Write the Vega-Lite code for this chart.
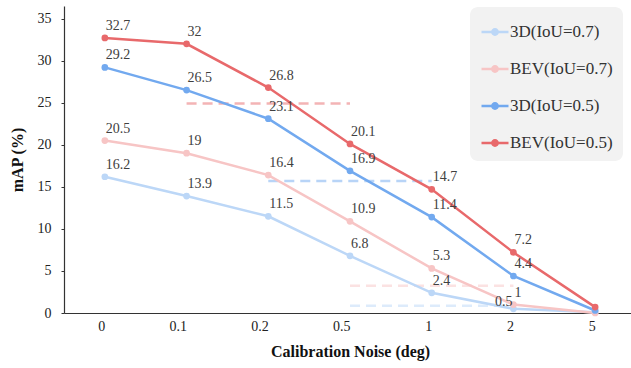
{
  "$schema": "https://vega.github.io/schema/vega-lite/v6.json",
  "width": 572,
  "height": 307,
  "autosize": "none",
  "padding": {"left": 64, "top": 6, "right": 0, "bottom": 55},
  "background": "white",
  "config": {
    "view": {"stroke": null},
    "font": "Liberation Serif, Times New Roman, serif",
    "axis": {"labelFont": "Liberation Serif, Times New Roman, serif", "titleFont": "Liberation Serif, Times New Roman, serif"},
    "legend": {"labelFont": "Liberation Serif, Times New Roman, serif"},
    "text": {"font": "Liberation Serif, Times New Roman, serif"}
  },
  "datasets": {
    "main": [
      {"noise": "0", "series": "3D(IoU=0.7)", "map": 16.2},
      {"noise": "0.1", "series": "3D(IoU=0.7)", "map": 13.9},
      {"noise": "0.2", "series": "3D(IoU=0.7)", "map": 11.5},
      {"noise": "0.5", "series": "3D(IoU=0.7)", "map": 6.8},
      {"noise": "1", "series": "3D(IoU=0.7)", "map": 2.4},
      {"noise": "2", "series": "3D(IoU=0.7)", "map": 0.5},
      {"noise": "5", "series": "3D(IoU=0.7)", "map": 0.1},
      {"noise": "0", "series": "BEV(IoU=0.7)", "map": 20.5},
      {"noise": "0.1", "series": "BEV(IoU=0.7)", "map": 19},
      {"noise": "0.2", "series": "BEV(IoU=0.7)", "map": 16.4},
      {"noise": "0.5", "series": "BEV(IoU=0.7)", "map": 10.9},
      {"noise": "1", "series": "BEV(IoU=0.7)", "map": 5.3},
      {"noise": "2", "series": "BEV(IoU=0.7)", "map": 1},
      {"noise": "5", "series": "BEV(IoU=0.7)", "map": 0},
      {"noise": "0", "series": "3D(IoU=0.5)", "map": 29.2},
      {"noise": "0.1", "series": "3D(IoU=0.5)", "map": 26.5},
      {"noise": "0.2", "series": "3D(IoU=0.5)", "map": 23.1},
      {"noise": "0.5", "series": "3D(IoU=0.5)", "map": 16.9},
      {"noise": "1", "series": "3D(IoU=0.5)", "map": 11.4},
      {"noise": "2", "series": "3D(IoU=0.5)", "map": 4.4},
      {"noise": "5", "series": "3D(IoU=0.5)", "map": 0.3},
      {"noise": "0", "series": "BEV(IoU=0.5)", "map": 32.7},
      {"noise": "0.1", "series": "BEV(IoU=0.5)", "map": 32},
      {"noise": "0.2", "series": "BEV(IoU=0.5)", "map": 26.8},
      {"noise": "0.5", "series": "BEV(IoU=0.5)", "map": 20.1},
      {"noise": "1", "series": "BEV(IoU=0.5)", "map": 14.7},
      {"noise": "2", "series": "BEV(IoU=0.5)", "map": 7.2},
      {"noise": "5", "series": "BEV(IoU=0.5)", "map": 0.7}
    ],
    "baselines": [
      {"series": "BEV(IoU=0.5)", "start": "0.1", "end": "0.5", "map": 24.9},
      {"series": "3D(IoU=0.5)", "start": "0.2", "end": "1", "map": 15.7},
      {"series": "BEV(IoU=0.7)", "start": "0.5", "end": "2", "map": 3.25},
      {"series": "3D(IoU=0.7)", "start": "0.5", "end": "2", "map": 0.85}
    ]
  },
  "layer": [
    {
      "data": {"name": "baselines"},
      "mark": {"type": "rule", "strokeWidth": 2.5, "strokeDash": [10, 6], "opacity": 0.5},
      "encoding": {
        "x": {"field": "start", "type": "ordinal"},
        "x2": {"field": "end"},
        "y": {"field": "map", "type": "quantitative"},
        "color": {"field": "series", "type": "nominal"}
      }
    },
    {
      "data": {"name": "main"},
      "mark": {"type": "line", "strokeWidth": 2.5, "point": {"filled": true, "size": 45}},
      "encoding": {
        "x": {
          "field": "noise", "type": "ordinal",
          "sort": ["0", "0.1", "0.2", "0.5", "1", "2", "5"],
          "scale": {"type": "point", "padding": 0.5, "domain": ["0", "0.1", "0.2", "0.5", "1", "2", "5"]},
          "axis": {
            "title": "Calibration Noise (deg)", "titleFontSize": 16, "titleFontWeight": "bold", "titleColor": "#111",
            "titlePadding": 10, "labelFontSize": 14, "labelColor": "#222", "labelAngle": 0, "labelPadding": 13,
            "ticks": false, "grid": false, "domainColor": "#333", "domainWidth": 1.2
          }
        },
        "y": {
          "field": "map", "type": "quantitative",
          "scale": {"domain": [0, 36.5], "nice": false},
          "axis": {
            "title": "mAP (%)", "titleFontSize": 16, "titleFontWeight": "bold", "titleColor": "#111", "titlePadding": 12,
            "values": [0, 5, 10, 15, 20, 25, 30, 35], "labelFontSize": 14, "labelColor": "#222", "labelPadding": 10,
            "tickSize": 3, "tickColor": "#333", "grid": false, "domainColor": "#333", "domainWidth": 1.2
          }
        },
        "color": {
          "field": "series", "type": "nominal",
          "scale": {
            "domain": ["3D(IoU=0.7)", "BEV(IoU=0.7)", "3D(IoU=0.5)", "BEV(IoU=0.5)"],
            "range": ["#bcd7f7", "#f7c5c5", "#72a9ef", "#e8696b"]
          },
          "legend": {
            "title": null, "orient": "none", "legendX": 406, "legendY": 1,
            "fillColor": "#f2f2f2", "cornerRadius": 8, "padding": 10,
            "labelFontSize": 17, "labelColor": "#333", "labelOffset": 0,
            "symbolType": "M-1,0H1M0,-0.2A0.2,0.2 0 1 1 0,0.2A0.2,0.2 0 1 1 0,-0.2Z",
            "symbolSize": 729, "symbolStrokeWidth": 2.5, "symbolOpacity": 1, "rowPadding": 14,
            "encode": {"symbols": {"update": {"fill": {"scale": "color", "field": "value"}, "opacity": {"value": 1}}}}
          }
        }
      }
    },
    {
      "data": {"name": "main"},
      "transform": [{"filter": "datum.noise != '5' && !(datum.noise == '2' && datum.series == '3D(IoU=0.7)')"}],
      "mark": {"type": "text", "align": "left", "baseline": "bottom", "dx": 1, "dy": -5, "fontSize": 14, "color": "#404040"},
      "encoding": {
        "x": {"field": "noise", "type": "ordinal"},
        "y": {"field": "map", "type": "quantitative"},
        "text": {"field": "map", "type": "quantitative"}
      }
    },
    {
      "data": {"name": "main"},
      "transform": [{"filter": "datum.noise == '2' && datum.series == '3D(IoU=0.7)'"}],
      "mark": {"type": "text", "align": "right", "baseline": "bottom", "dx": -1, "dy": 0, "fontSize": 14, "color": "#404040"},
      "encoding": {
        "x": {"field": "noise", "type": "ordinal"},
        "y": {"field": "map", "type": "quantitative"},
        "text": {"field": "map", "type": "quantitative"}
      }
    }
  ]
}
